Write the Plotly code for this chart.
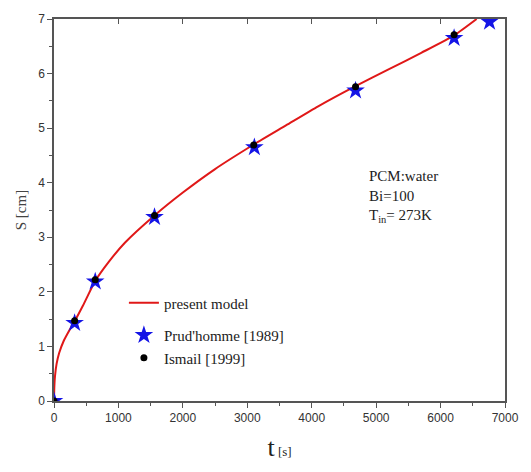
import plotly.graph_objects as go

# present model curve
model_t = [0, 5, 15, 40, 80, 150, 250, 320, 450, 640, 850, 1100, 1560, 2000, 2500, 3100, 3600, 4100, 4680, 5200, 5700, 6210, 6560]
model_s = [0, 0.25, 0.45, 0.68, 0.88, 1.1, 1.32, 1.46, 1.75, 2.2, 2.55, 2.9, 3.4, 3.82, 4.25, 4.7, 5.05, 5.4, 5.77, 6.08, 6.38, 6.7, 7.0]

# Prud'homme [1989]
prud_t = [0, 320, 640, 1560, 3110, 4680, 6210, 6760]
prud_s = [0, 1.43, 2.19, 3.37, 4.65, 5.69, 6.65, 6.95]

# Ismail [1999]
ism_t = [0, 320, 640, 1560, 3100, 4680, 6210]
ism_s = [0, 1.47, 2.22, 3.40, 4.69, 5.76, 6.71]

xticks = [0, 1000, 2000, 3000, 4000, 5000, 6000, 7000]
yticks = [0, 1, 2, 3, 4, 5, 6, 7]

fig = go.Figure()
fig.add_trace(go.Scatter(x=model_t, y=model_s, mode="lines", name="present model",
                         line=dict(color="#e01818", width=2, shape="spline", smoothing=0.6),
                         legendgroup="a"))
fig.add_trace(go.Scatter(x=prud_t, y=prud_s, mode="markers", name="Prud'homme [1989]",
                         marker=dict(symbol="star", size=14, color="#1414e6", line=dict(width=0)),
                         legendgroup="b"))
fig.add_trace(go.Scatter(x=ism_t, y=ism_s, mode="markers", name="Ismail [1999]",
                         marker=dict(symbol="circle", size=7, color="black"),
                         legendgroup="b"))
# invisible trace for top axis ticks
fig.add_trace(go.Scatter(x=[0, 7000], y=[0, 0], xaxis="x2", mode="markers",
                         marker=dict(opacity=0), showlegend=False, hoverinfo="skip"))

axcol = "#555555"
fig.update_layout(
    width=531, height=472,
    margin=dict(l=54, r=20, t=16, b=71),
    plot_bgcolor="white", paper_bgcolor="white",
    showlegend=True,
    legend=dict(x=0.155, y=0.30, xanchor="left", yanchor="top",
                font=dict(family="Liberation Serif", size=15, color="#222"),
                bgcolor="rgba(0,0,0,0)", traceorder="grouped", tracegroupgap=10),
    xaxis=dict(range=[0, 7000], tickvals=xticks, ticks="outside", ticklen=5, tickwidth=1,
               tickcolor=axcol, showline=True, linecolor=axcol, linewidth=1.5, mirror=True,
               showgrid=False, zeroline=False,
               minor=dict(dtick=500, ticks="outside", ticklen=3, tickcolor=axcol),
               tickfont=dict(family="Liberation Sans", size=12, color="#333"),
               title=dict(text="t<span style='font-size:13px'> [s]</span>",
                          font=dict(family="Liberation Serif", size=26, color="#222"), standoff=14)),
    xaxis2=dict(range=[0, 7000], overlaying="x", side="top", tickvals=xticks, ticks="inside",
                ticklen=5, tickcolor=axcol, showticklabels=False, showgrid=False, zeroline=False,
                showline=False),
    yaxis=dict(range=[0, 7], tickvals=yticks, ticks="outside", ticklen=5, tickwidth=1,
               tickcolor=axcol, showline=True, linecolor=axcol, linewidth=1.5, mirror=True,
               showgrid=False, zeroline=False,
               minor=dict(dtick=0.5, ticks="outside", ticklen=3, tickcolor=axcol),
               tickfont=dict(family="Liberation Sans", size=12, color="#333"),
               title=dict(text="S [cm]", font=dict(family="Liberation Serif", size=15, color="#444"),
                          standoff=8)),
)
fig.add_annotation(xref="paper", yref="paper", x=0.695, y=0.615, xanchor="left", yanchor="top",
                   align="left", showarrow=False,
                   text="PCM:water<br>Bi=100<br>T<sub>in</sub>= 273K",
                   font=dict(family="Liberation Serif", size=15, color="#222"))
fig.write_html("out.html")
